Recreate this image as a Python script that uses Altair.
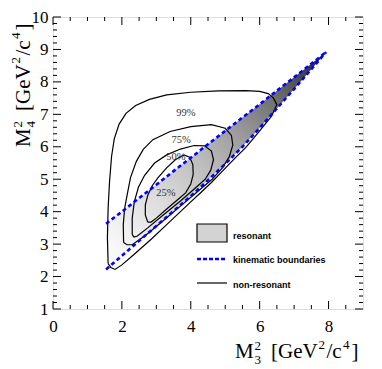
import altair as alt
import pandas as pd

# ---------------- data ----------------
# kinematic boundaries (M3^2 -> M4^2)
bound_x = [1.54, 2.0, 2.5, 3.0, 3.5, 4.0, 4.5, 5.0, 5.5, 6.0, 6.5, 7.0, 7.5, 7.93]
bound_upper = [3.63, 4.00, 4.42, 4.83, 5.25, 5.66, 6.08, 6.49, 6.90, 7.31, 7.73, 8.14, 8.56, 8.92]
bound_lower = [2.22, 2.64, 3.10, 3.56, 4.02, 4.48, 4.97, 5.47, 6.00, 6.58, 7.18, 7.78, 8.39, 8.92]

# non-resonant contours
c99_x = [1.60, 1.58, 1.60, 1.64, 1.70, 1.78, 1.92, 2.12, 2.40, 2.80, 3.30, 4.00, 4.80, 5.60, 6.00,
         6.25, 6.40, 6.50, 6.35, 6.10, 5.85, 5.60, 5.35, 5.10, 4.85, 4.60, 4.30, 4.00, 3.70, 3.30,
         2.85, 2.35, 2.00, 1.80, 1.68, 1.60]
c99_y = [2.40, 3.20, 4.10, 4.90, 5.70, 6.25, 6.70, 7.03, 7.27, 7.46, 7.60, 7.68, 7.72, 7.73, 7.71,
         7.64, 7.50, 7.30, 6.95, 6.62, 6.30, 5.98, 5.72, 5.45, 5.17, 4.90, 4.60, 4.30, 4.00, 3.60,
         3.15, 2.68, 2.36, 2.22, 2.28, 2.40]
c75_x = [2.05, 2.04, 2.08, 2.15, 2.25, 2.42, 2.62, 2.90, 3.40, 4.00, 4.60, 5.00, 5.18, 5.22, 5.12,
         4.92, 4.62, 4.20, 3.70, 3.20, 2.70, 2.30, 2.15, 2.05]
c75_y = [3.05, 3.60, 4.10, 4.50, 5.05, 5.55, 5.92, 6.22, 6.47, 6.62, 6.68, 6.57, 6.35, 6.05, 5.70,
         5.35, 5.00, 4.62, 4.17, 3.72, 3.28, 2.98, 2.98, 3.05]
c50_x = [2.30, 2.30, 2.36, 2.48, 2.66, 2.95, 3.30, 3.70, 4.10, 4.40, 4.60, 4.66, 4.58, 4.42, 4.10,
         3.70, 3.20, 2.75, 2.45, 2.35, 2.30]
c50_y = [3.30, 3.80, 4.30, 4.75, 5.12, 5.50, 5.75, 5.93, 6.04, 6.03, 5.87, 5.60, 5.28, 5.00, 4.70,
         4.33, 3.90, 3.50, 3.25, 3.22, 3.30]
c25_x = [2.75, 2.68, 2.68, 2.75, 2.88, 3.05, 3.30, 3.55, 3.80, 3.97, 4.06, 4.07, 4.00, 3.85, 3.60,
         3.30, 3.00, 2.85, 2.75]
c25_y = [3.68, 3.90, 4.20, 4.50, 4.80, 5.05, 5.35, 5.60, 5.75, 5.68, 5.45, 5.15, 4.85, 4.58, 4.35,
         4.08, 3.80, 3.68, 3.68]

contour_names = ["99%", "75%", "50%", "25%"]
label_x = [3.86, 3.72, 3.57, 3.28]
label_y = [7.03, 6.20, 5.68, 4.58]

x_major = [0, 2, 4, 6, 8]
x_minor = [0.5, 1, 1.5, 2.5, 3, 3.5, 4.5, 5, 5.5, 6.5, 7, 7.5, 8.5]
y_major = [1, 2, 3, 4, 5, 6, 7, 8, 9, 10]
y_minor = [1.2, 1.4, 1.6, 1.8, 2.2, 2.4, 2.6, 2.8, 3.2, 3.4, 3.6, 3.8, 4.2, 4.4, 4.6, 4.8,
           5.2, 5.4, 5.6, 5.8, 6.2, 6.4, 6.6, 6.8, 7.2, 7.4, 7.6, 7.8, 8.2, 8.4, 8.6, 8.8,
           9.2, 9.4, 9.6, 9.8]

legend_labels = ["resonant", "kinematic boundaries", "non-resonant"]

# ---------------- styling ----------------
W, H = 310, 292
serif = "Liberation Serif"
sans = "Liberation Sans"
xs = alt.Scale(domain=[0, 9], nice=False, zero=False)
ys = alt.Scale(domain=[1, 10], nice=False, zero=False)
axis_style = dict(labelFont=serif, labelFontSize=17, labelColor="black", ticks=False,
                  domain=False, grid=False, labelFlush=False, labelOverlap=False, title=None)
xaxis = alt.Axis(values=x_major, labelPadding=9, **axis_style)
yaxis = alt.Axis(values=y_major, labelPadding=5, **axis_style)


def X(f):
    return alt.X(f, type="quantitative", scale=xs, axis=xaxis, title=None)


def Y(f):
    return alt.Y(f, type="quantitative", scale=ys, axis=yaxis, title=None)


layers = []

# resonant band with grey gradient
band_df = pd.DataFrame({"x": bound_x, "y": bound_upper, "y2": bound_lower})
grad = alt.LinearGradient(
    gradient="linear",
    stops=[alt.GradientStop(color=c, offset=o) for o, c in [
        (0.0, "#ffffff"), (0.12, "#f2f2f2"), (0.28, "#dcdcdc"), (0.46, "#bdbdbd"),
        (0.62, "#9a9a9a"), (0.78, "#6e6e6e"), (0.93, "#3a3a3a"), (1.0, "#1a1a1a")]],
    x1=0, y1=1, x2=1, y2=0)
layers.append(alt.Chart(band_df).mark_area(color=grad, line=False).encode(
    x=X("x"), y=Y("y"), y2="y2:Q"))

# contours
rows = []
for name, cx, cy in zip(contour_names, [c99_x, c75_x, c50_x, c25_x], [c99_y, c75_y, c50_y, c25_y]):
    for i, (a, b) in enumerate(zip(cx, cy)):
        rows.append({"c": name, "i": i, "x": a, "y": b})
cont_df = pd.DataFrame(rows)
layers.append(alt.Chart(cont_df).mark_line(color="black", strokeWidth=1.2).encode(
    x=X("x"), y=Y("y"), detail="c:N", order="i:Q"))

# kinematic boundaries
brow = []
for side, ys_ in [("upper", bound_upper), ("lower", bound_lower)]:
    for i, (a, b) in enumerate(zip(bound_x, ys_)):
        brow.append({"s": side, "i": i, "x": a, "y": b})
bdf = pd.DataFrame(brow)
layers.append(alt.Chart(bdf).mark_line(color="#0000ff", strokeWidth=2.6, strokeDash=[4, 3]).encode(
    x=X("x"), y=Y("y"), detail="s:N", order="i:Q"))

# contour labels
lab_df = pd.DataFrame({"t": contour_names, "x": label_x, "y": label_y})
layers.append(alt.Chart(lab_df).mark_text(font=serif, fontSize=10.5, color="#333333").encode(
    x=X("x"), y=Y("y"), text="t:N"))


# ticks (inward, on all four sides)
def xticks(vals, length):
    df = pd.DataFrame({"v": vals})
    base = alt.Chart(df)
    return [base.mark_rule(color="black", strokeWidth=1).encode(
                x=X("v"), y=alt.value(H), y2=alt.value(H - length)),
            base.mark_rule(color="black", strokeWidth=1).encode(
                x=X("v"), y=alt.value(0), y2=alt.value(length))]


def yticks(vals, length):
    df = pd.DataFrame({"v": vals})
    base = alt.Chart(df)
    return [base.mark_rule(color="black", strokeWidth=1).encode(
                y=Y("v"), x=alt.value(0), x2=alt.value(length)),
            base.mark_rule(color="black", strokeWidth=1).encode(
                y=Y("v"), x=alt.value(W), x2=alt.value(W - length))]


layers += xticks(x_major, 8) + xticks(x_minor, 4) + yticks(y_major, 8) + yticks(y_minor, 4)

one = pd.DataFrame({"a": [0]})

# legend
layers.append(alt.Chart(one).mark_rect(fill="#d3d3d3", stroke="black", strokeWidth=1.2).encode(
    x=alt.value(144), x2=alt.value(174), y=alt.value(207), y2=alt.value(225)))
layers.append(alt.Chart(one).mark_rule(color="#0000ff", strokeWidth=2.4, strokeDash=[4, 2]).encode(
    x=alt.value(144), x2=alt.value(174), y=alt.value(242)))
layers.append(alt.Chart(one).mark_rule(color="black", strokeWidth=1.2).encode(
    x=alt.value(144), x2=alt.value(174), y=alt.value(266)))
for t, yy in zip(legend_labels, [219, 243, 268]):
    layers.append(alt.Chart(pd.DataFrame({"t": [t]})).mark_text(
        font=sans, fontSize=9, fontWeight="bold", align="left", baseline="middle", color="black").encode(
        x=alt.value(180), y=alt.value(yy), text="t:N"))


# axis titles built from pieces (stacked super/subscripts)
def title_pieces(sub):
    return [("M", 0, 0, 21), ("2", 19.5, -8, 13), (sub, 19.5, 5.5, 13), ("[GeV", 36, 0, 21),
            ("2", 83.5, -9.5, 13), ("/c", 91.5, 0, 21), ("4", 108, -9.5, 13), ("]", 116.5, 0, 21)]


for t, dx, dy, sz in title_pieces("3"):
    layers.append(alt.Chart(pd.DataFrame({"t": [t]})).mark_text(
        font=serif, fontSize=sz, align="left", baseline="alphabetic", color="black").encode(
        x=alt.value(182 + dx), y=alt.value(341 + dy), text="t:N"))
for t, dx, dy, sz in title_pieces("4"):
    layers.append(alt.Chart(pd.DataFrame({"t": [t]})).mark_text(
        font=serif, fontSize=sz, align="left", baseline="alphabetic", angle=270, color="black").encode(
        x=alt.value(-23.5 + dy), y=alt.value(130 - dx), text="t:N"))

chart = alt.layer(*layers).properties(
    width=W, height=H,
    padding={"left": 45, "top": 9, "right": 10, "bottom": 60},
    autosize=alt.AutoSizeParams(type="none"),
).configure_view(stroke="black", strokeWidth=1.5).configure(
    background="white"
).configure_axis(
    labelFont=serif, labelFontSize=17, labelColor="black", ticks=False, domain=False,
    grid=False, labelFlush=False, labelOverlap=False
)

chart.save("out.html", embed_options={"renderer": "svg", "actions": False})
